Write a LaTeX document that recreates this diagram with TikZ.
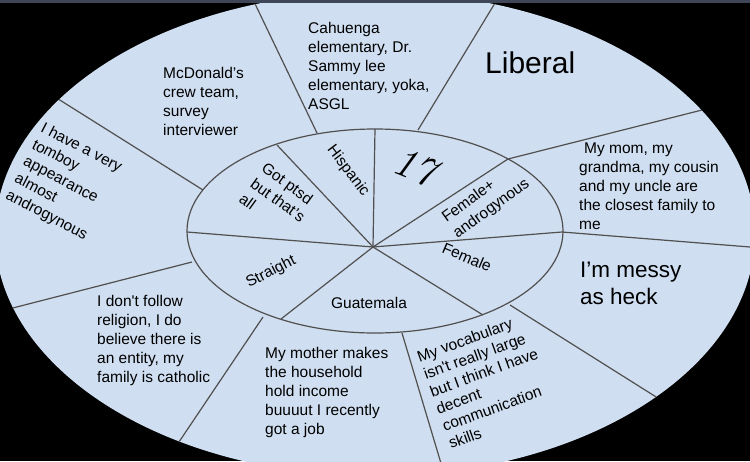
\documentclass[tikz,border=0pt]{standalone}
\usepackage{fontspec}
\newfontfamily\arialf{Liberation Sans}
\usetikzlibrary{calc}
\definecolor{fillblue}{RGB}{207,222,240}
\definecolor{linegray}{RGB}{80,80,80}
\definecolor{topstrip}{RGB}{62,70,88}
\tikzset{
  spoke/.style={draw=linegray, line width=1.2pt},
  body/.style={font=\arialf\fontsize{15.5}{19}\selectfont, align=left, inner sep=0pt, text=black},
  bigtxt/.style={font=\arialf\fontsize{22.5}{27}\selectfont, align=left, inner sep=0pt, text=black},
  hugetxt/.style={font=\arialf\fontsize{30}{36}\selectfont, inner sep=0pt, text=black},
  agetxt/.style={font=\rmfamily\itshape\fontsize{42}{46}\selectfont, inner sep=0pt, text=black},
}
\begin{document}
\begin{tikzpicture}[x=1pt,y=-1pt]
\useasboundingbox (0,0) rectangle (750,461);
\fill[black] (0,0) rectangle (750,461);
\clip (0,0) rectangle (750,461);
\fill[fillblue] (375,234) ellipse [x radius=380pt, y radius=242pt];
\fill[topstrip] (0,0) rectangle (750,2.5);
% centre and inner ellipse points
\coordinate (C) at (373,247);
\coordinate (i1) at (375,129);
\coordinate (i2) at (277,145);
\coordinate (i3) at (187,232);
\coordinate (i4) at (281,319);
\coordinate (i5) at (483,315);
\coordinate (i6) at (562,232);
\coordinate (i7) at (508,159);
% outer spokes: start on inner ellipse, direction point
\coordinate (a1) at (317,133); \coordinate (a2) at (258,10);
\coordinate (b1) at (203,190); \coordinate (b2) at (55,97);
\coordinate (c1) at (418,130); \coordinate (c2) at (492,8);
\coordinate (d2) at (710,108);
\coordinate (e2) at (750,247);
\coordinate (f1) at (510,305); \coordinate (f2) at (653,395);
\coordinate (g1) at (402,333); \coordinate (g2) at (440,460);
\coordinate (h1) at (263,317); \coordinate (h2) at (185,433);
\coordinate (k1) at (192,262); \coordinate (k2) at (5,310);
\foreach \p in {i1,i2,i3,i4,i5,i6,i7} {\draw[spoke] (C) -- (\p);}
\begin{scope}
\clip (375,234) ellipse [x radius=380pt, y radius=242pt];
\draw[spoke] (a1) -- ($(a1)!1.3!(a2)$);
\draw[spoke] (b1) -- ($(b1)!1.3!(b2)$);
\draw[spoke] (c1) -- ($(c1)!1.3!(c2)$);
\draw[spoke] (i7) -- ($(i7)!1.3!(d2)$);
\draw[spoke] (i6) -- ($(i6)!1.3!(e2)$);
\draw[spoke] (f1) -- ($(f1)!1.3!(f2)$);
\draw[spoke] (g1) -- ($(g1)!1.3!(g2)$);
\draw[spoke] (h1) -- ($(h1)!1.3!(h2)$);
\draw[spoke] (k1) -- ($(k1)!1.3!(k2)$);
\end{scope}
\draw[spoke] (375,231) ellipse [x radius=188pt, y radius=102pt];
% outer texts
\node[body, anchor=west] (cah) at (308,65.5) {Cahuenga\\elementary, Dr.\\Sammy lee\\elementary, yoka,\\ASGL};
\node[body, anchor=west] (mcd) at (163,101.5) {McDonald’s\\crew team,\\survey\\interviewer};
\node[hugetxt, anchor=west] (lib) at (485,63) {Liberal};
\node[body, anchor=west] (mom) at (579,186.5) {\hspace{5pt}My mom, my\\grandma, my cousin\\and my uncle are\\the closest family to\\me};
\node[bigtxt, anchor=west] (messy) at (580,283.5) {I’m messy\\as heck};
\node[body, anchor=west] (mother) at (265,392.5) {My mother makes\\the household\\hold income\\buuuut I recently\\got a job};
\node[body, anchor=west] (relig) at (97,340.5) {I don't follow\\religion, I do\\believe there is\\an entity, my\\family is catholic};
\node[body, rotate=-27.5] (tom) at (64,182) {I have a very\\tomboy\\appearance\\almost\\androgynous};
\node[body, rotate=20, font=\arialf\fontsize{15.5}{18.4}\selectfont] (voc) at (487,381) {My vocabulary\\isn't really large\\but I think I have\\decent\\communication\\skills};
% inner texts
\node[body, rotate=-53] (hisp) at (348,171) {Hispanic};
\node[body, rotate=-36] (ptsd) at (278,200) {Got ptsd\\but that’s\\all};
\node[body, rotate=36] (fem2) at (486,201) {Female+\\androgynous};
\node[body, rotate=-23] (fem) at (467,257) {Female};
\node[body, rotate=27] (str) at (271,272) {Straight};
\node[body] (gua) at (369,303) {Guatemala};
\node[agetxt, rotate=-22] (age) at (415,167) {17};
\end{tikzpicture}
\end{document}
